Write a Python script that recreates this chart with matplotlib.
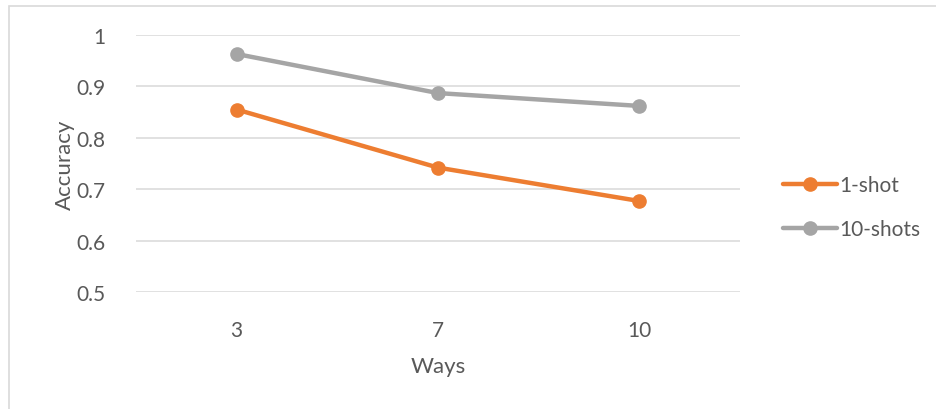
import matplotlib.pyplot as plt
from matplotlib.patches import Rectangle

# Data
ways = ['3', '7', '10']
one_shot = [0.855, 0.742, 0.677]
ten_shots = [0.963, 0.887, 0.862]

plt.rcParams['font.family'] = ['Lato', 'DejaVu Sans']
text_color = '#595959'

fig = plt.figure(figsize=(9.37, 4.10), dpi=100)
# Chart border (cropped at right and bottom like the reference)
fig.patches.append(Rectangle((9 / 937, -0.1), 1.2, 1 - 7 / 410 + 0.1,
                             transform=fig.transFigure, fill=False,
                             edgecolor='#D9D9D9', linewidth=1.2))

ax = fig.add_axes([136 / 937, 1 - 293 / 410, (740 - 136) / 937, (293 - 36) / 410])

x = range(len(ways))
ax.plot(x, one_shot, color='#ED7D31', linewidth=3.2, marker='o', markersize=9.5,
        label='1-shot', solid_capstyle='round', zorder=3)
ax.plot(x, ten_shots, color='#A5A5A5', linewidth=3.2, marker='o', markersize=9.5,
        label='10-shots', solid_capstyle='round', zorder=3)

ax.set_xlim(-0.5, len(ways) - 0.5)
ax.set_ylim(0.5, 1.0)
ax.set_yticks([0.5, 0.6, 0.7, 0.8, 0.9, 1.0])
ax.set_yticklabels(['0.5', '0.6', '0.7', '0.8', '0.9', '1'])
ax.set_xticks(list(x))
ax.set_xticklabels(ways)
ax.grid(axis='y', color='#D9D9D9', linewidth=1.1, zorder=0)
ax.set_axisbelow(True)
for s in ax.spines.values():
    s.set_visible(False)
ax.tick_params(length=0, colors=text_color, labelsize=15)
ax.tick_params(axis='y', pad=22)
ax.tick_params(axis='x', pad=20)

ax.set_xlabel('Ways', fontsize=16, color=text_color, labelpad=12)
ax.set_ylabel('Accuracy', fontsize=16, color=text_color, labelpad=1)

ax.legend(loc='center left', bbox_to_anchor=(1.04, 0.33), frameon=False,
          fontsize=15, labelcolor=text_color, handlelength=2.6,
          handletextpad=0.1, labelspacing=1.15)

fig.savefig('out.png', dpi=100)
